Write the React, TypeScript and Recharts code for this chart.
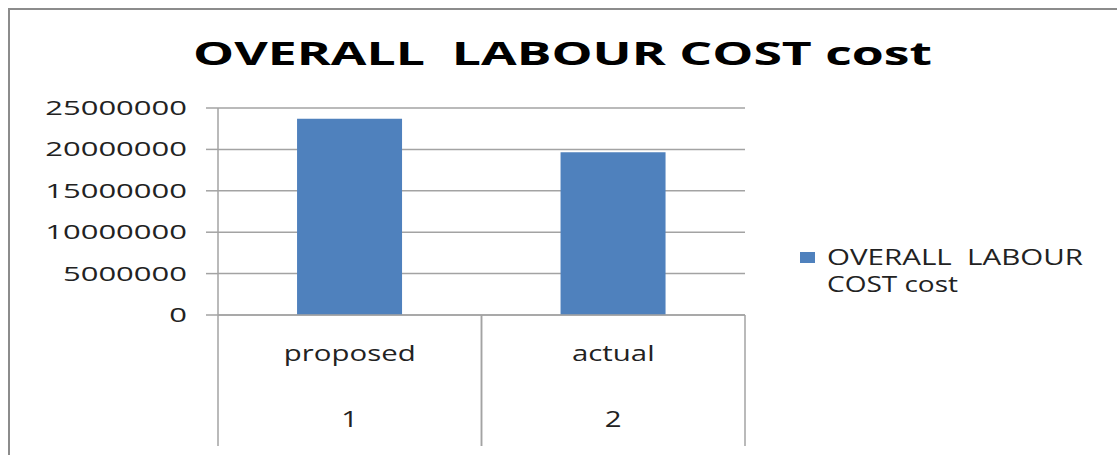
import React from 'react';
import { BarChart, Bar, XAxis, YAxis, CartesianGrid, Legend } from 'recharts';

const chartTitle = 'OVERALL  LABOUR COST cost';
const seriesName = 'OVERALL  LABOUR COST cost';
const legendLines = ['OVERALL  LABOUR', 'COST cost'];
const categories = ['proposed', 'actual'];
const categoryNumbers = ['1', '2'];
const costValues = [23700000, 19650000];
const yTicks = [0, 5000000, 10000000, 15000000, 20000000, 25000000];

const data = categories.map((c, i) => ({ name: c, num: categoryNumbers[i], cost: costValues[i] }));

const FONT = '"Open Sans", sans-serif';
const GRID = '#a3a3a3';
const TEXT = '#222222';
const BLUE = '#4F81BD';

const W = 1117;
const H = 455;
const M = { top: 108, right: 372, bottom: 0, left: 0 };
const Y_AXIS_W = 218;
const X_AXIS_H = 140;
const PLOT_W = W - M.left - M.right - Y_AXIS_W;
const HALF = PLOT_W / categories.length / 2;

function YTick(props: any) {
  const { x, y, payload } = props;
  return (
    <text
      transform={`translate(${x},${y + 7}) scale(1.55,1)`}
      textAnchor="end"
      fontFamily={FONT}
      fontSize={20}
      fill={TEXT}
    >
      {payload.value}
    </text>
  );
}

function XTick(props: any) {
  const { x, y, payload, index } = props;
  return (
    <g>
      <line x1={x - HALF} y1={y} x2={x - HALF} y2={y + 131} stroke={GRID} strokeWidth={1.5} />
      <line x1={x + HALF} y1={y} x2={x + HALF} y2={y + 131} stroke={GRID} strokeWidth={1.5} />
      <text
        transform={`translate(${x},${y + 46}) scale(1.4,1)`}
        textAnchor="middle"
        fontFamily={FONT}
        fontSize={21}
        fill={TEXT}
      >
        {payload.value}
      </text>
      <text
        transform={`translate(${x},${y + 112}) scale(1.4,1)`}
        textAnchor="middle"
        fontFamily={FONT}
        fontSize={21}
        fill={TEXT}
      >
        {categoryNumbers[index]}
      </text>
    </g>
  );
}

function LegendContent() {
  return (
    <svg width={322} height={70} style={{ display: 'block' }}>
      <rect x={5} y={12} width={15} height={11} fill={BLUE} />
      <text
        x={32}
        y={25}
        fontFamily={FONT}
        fontSize={21}
        fill={TEXT}
        textLength={256}
        lengthAdjust="spacingAndGlyphs"
        style={{ whiteSpace: 'pre' }}
      >
        {legendLines[0]}
      </text>
      <text
        x={32}
        y={52}
        fontFamily={FONT}
        fontSize={21}
        fill={TEXT}
        textLength={131}
        lengthAdjust="spacingAndGlyphs"
        style={{ whiteSpace: 'pre' }}
      >
        {legendLines[1]}
      </text>
    </svg>
  );
}

export default function App() {
  return (
    <div style={{ position: 'absolute', left: 0, top: 0, width: W, height: H, background: '#fff', overflow: 'hidden' }}>
      <div
        style={{
          position: 'absolute',
          left: 8,
          top: 8,
          width: W - 8,
          height: H - 8,
          borderLeft: '2px solid #8c8c8c',
          borderTop: '2px solid #8c8c8c',
          boxSizing: 'border-box',
        }}
      />
      <svg width={W} height={100} style={{ position: 'absolute', left: 0, top: 0 }}>
        <text
          x={193}
          y={65}
          fontFamily={FONT}
          fontWeight="bold"
          fontSize={32}
          fill="#000"
          textLength={739}
          lengthAdjust="spacingAndGlyphs"
          style={{ whiteSpace: 'pre' }}
        >
          {chartTitle}
        </text>
      </svg>
      <div style={{ position: 'absolute', left: 0, top: 0 }}>
        <BarChart width={W} height={H} data={data} margin={M} barCategoryGap="30%">
          <CartesianGrid vertical={false} stroke={GRID} strokeWidth={1.5} />
          <XAxis
            dataKey="name"
            height={X_AXIS_H}
            tickLine={false}
            tickSize={0}
            tickMargin={0}
            axisLine={{ stroke: GRID, strokeWidth: 1.5 }}
            tick={<XTick />}
            interval={0}
          />
          <YAxis
            width={Y_AXIS_W}
            domain={[0, 25000000]}
            ticks={yTicks}
            interval={0}
            tickSize={12}
            tickMargin={19}
            tickLine={{ stroke: GRID, strokeWidth: 1.5 }}
            axisLine={{ stroke: GRID, strokeWidth: 1.5 }}
            tick={<YTick />}
          />
          <Legend
            layout="vertical"
            align="center"
            verticalAlign="middle"
            wrapperStyle={{ position: 'absolute', left: 795, top: 240, width: 322, height: 70 }}
            content={<LegendContent />}
          />
          <Bar dataKey="cost" name={seriesName} fill={BLUE} isAnimationActive={false} />
        </BarChart>
      </div>
    </div>
  );
}
